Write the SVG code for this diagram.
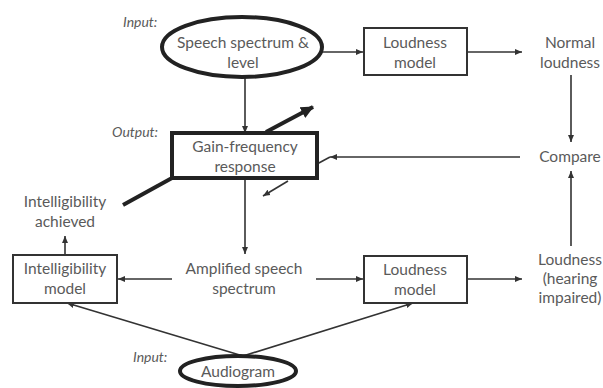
<svg xmlns="http://www.w3.org/2000/svg" width="603" height="388" viewBox="0 0 603 388">
<defs>
<style>
text{font-family:Lato,"Open Sans","Liberation Sans",sans-serif;font-size:15.5px;fill:#5a5a5a;text-anchor:middle}
.lab{font-style:italic;font-size:14px;text-anchor:start}
.ln{stroke:#333;stroke-width:1.6;fill:none}
.thk{stroke:#222;stroke-width:4;fill:none}
.box{fill:#fff;stroke:#333;stroke-width:2}
.tbox{fill:#fff;stroke:#222;stroke-width:4}
</style>
<marker id="ah" markerWidth="8" markerHeight="8" refX="7" refY="4" orient="auto" markerUnits="userSpaceOnUse">
<path d="M0,1 L7,4 L0,7 z" fill="#333"/>
</marker>
<marker id="bh" markerWidth="14" markerHeight="14" refX="12" refY="7" orient="auto" markerUnits="userSpaceOnUse">
<path d="M0,1 L13,7 L0,13 z" fill="#222"/>
</marker>
</defs>
<rect width="603" height="388" fill="#fff"/>
<g id="connectors">
<line class="ln" x1="322" y1="52" x2="363" y2="52" marker-end="url(#ah)"/>
<line class="ln" x1="467" y1="52" x2="522" y2="52" marker-end="url(#ah)"/>
<line class="ln" x1="571" y1="75" x2="571" y2="142" marker-end="url(#ah)"/>
<line class="ln" x1="520" y1="157" x2="330" y2="157" marker-end="url(#ah)"/>
<line class="ln" x1="330" y1="157" x2="317" y2="164"/>
<line class="ln" x1="245" y1="78" x2="245" y2="133" marker-end="url(#ah)"/>
<line class="ln" x1="245" y1="178" x2="245" y2="254" marker-end="url(#ah)"/>
<line class="ln" x1="172" y1="279" x2="118" y2="279" marker-end="url(#ah)"/>
<line class="ln" x1="316" y1="279" x2="363" y2="279" marker-end="url(#ah)"/>
<line class="ln" x1="467" y1="279" x2="522" y2="279" marker-end="url(#ah)"/>
<line class="ln" x1="571" y1="246" x2="571" y2="171" marker-end="url(#ah)"/>
<line class="ln" x1="65" y1="255" x2="65" y2="236" marker-end="url(#ah)"/>
<line class="ln" x1="243" y1="356" x2="67" y2="303" marker-end="url(#ah)"/>
<line class="ln" x1="243" y1="356" x2="413" y2="303" marker-end="url(#ah)"/>
<line class="thk" x1="266" y1="132" x2="313" y2="107" marker-end="url(#bh)"/>
<line class="thk" x1="172" y1="178" x2="123" y2="205"/>
<line class="ln" stroke-width="2.2" x1="288" y1="181" x2="263" y2="196" marker-end="url(#ah)"/>
</g>
<g id="speech">
<ellipse cx="242" cy="47" rx="80" ry="30" fill="#fff" stroke="#222" stroke-width="4"/>
<text x="243" y="48">Speech spectrum &amp;</text>
<text x="243" y="68">level</text>
</g>
<text class="lab" x="123" y="27">Input:</text>
<g id="loud1">
<rect class="box" x="364" y="28" width="103" height="47"/>
<text x="415" y="48">Loudness</text>
<text x="415" y="68">model</text>
</g>
<g id="normal">
<text x="570" y="48">Normal</text>
<text x="570" y="68">loudness</text>
</g>
<g id="compare">
<text x="570" y="162">Compare</text>
</g>
<text class="lab" x="112" y="137">Output:</text>
<g id="gain">
<rect class="tbox" x="172" y="133" width="145" height="45"/>
<text x="245" y="152">Gain-frequency</text>
<text x="245" y="172">response</text>
</g>
<g id="achieved">
<text x="65" y="207">Intelligibility</text>
<text x="65" y="227">achieved</text>
</g>
<g id="intel">
<rect class="box" x="13" y="255" width="104" height="48"/>
<text x="65" y="274">Intelligibility</text>
<text x="65" y="294">model</text>
</g>
<g id="amplified">
<text x="244" y="274">Amplified speech</text>
<text x="244" y="294">spectrum</text>
</g>
<g id="loud2">
<rect class="box" x="364" y="256" width="103" height="47"/>
<text x="415" y="275">Loudness</text>
<text x="415" y="295">model</text>
</g>
<g id="impaired">
<text x="570" y="265">Loudness</text>
<text x="570" y="284">(hearing</text>
<text x="570" y="303">impaired)</text>
</g>
<text class="lab" x="133" y="362">Input:</text>
<g id="audiogram">
<ellipse cx="238" cy="371" rx="58" ry="15" fill="#fff" stroke="#222" stroke-width="4"/>
<text x="238" y="377">Audiogram</text>
</g>
</svg>
